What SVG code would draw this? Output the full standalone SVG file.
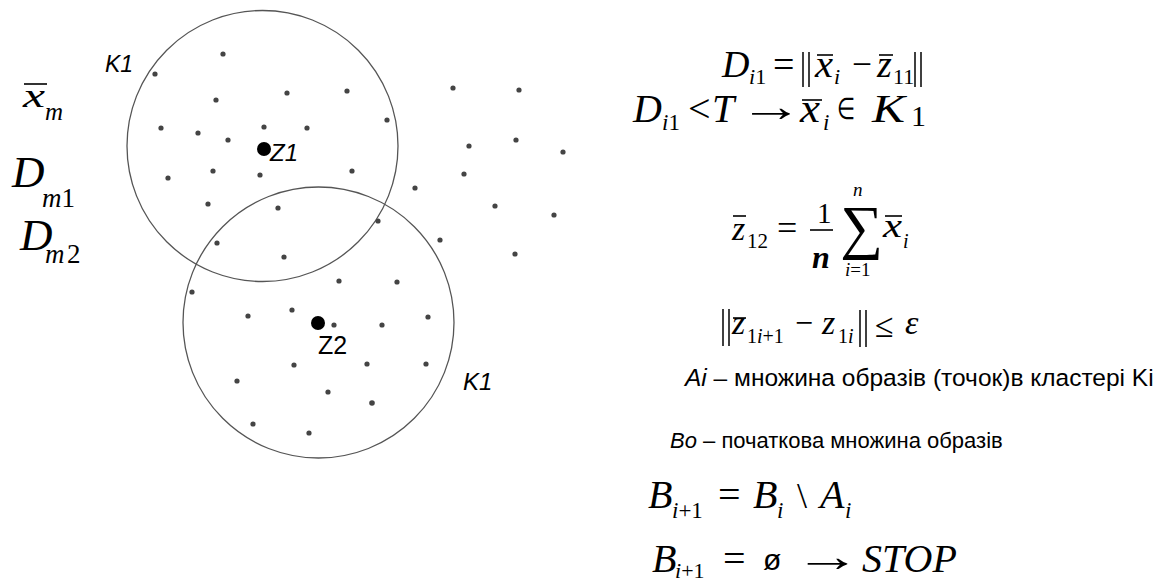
<svg xmlns="http://www.w3.org/2000/svg" width="1168" height="582" viewBox="0 0 1168 582">
<style>
.m{font-family:"Liberation Serif","Times New Roman",serif;font-style:italic;fill:#000}
.r{font-style:normal}
.b{font-weight:bold}
.s{font-family:"Liberation Sans",Arial,sans-serif;fill:#000}
.i{font-style:italic}
.bar{stroke:#000;stroke-width:1.6}
.nb{stroke:#000;stroke-width:1.5}
.c{fill:none;stroke:#555;stroke-width:1.3}
.d{fill:#444}
</style>
<rect width="1168" height="582" fill="#fff"/>
<g id="clusters">
<circle class="c" cx="262.5" cy="146" r="135.5"/>
<circle class="c" cx="318.5" cy="322.5" r="135.5"/>
</g>
<g id="points">
<circle class="d" cx="223" cy="54" r="2.6"/><circle class="d" cx="155" cy="74" r="2.6"/>
<circle class="d" cx="216" cy="100" r="2.6"/><circle class="d" cx="287" cy="93" r="2.6"/>
<circle class="d" cx="347" cy="91" r="2.6"/><circle class="d" cx="387" cy="120" r="2.6"/>
<circle class="d" cx="453" cy="88" r="2.6"/><circle class="d" cx="519" cy="90" r="2.6"/>
<circle class="d" cx="161" cy="128" r="2.6"/><circle class="d" cx="198" cy="133" r="2.6"/>
<circle class="d" cx="264" cy="127" r="2.6"/><circle class="d" cx="307" cy="128" r="2.6"/>
<circle class="d" cx="228" cy="140" r="2.6"/><circle class="d" cx="469" cy="146" r="2.6"/>
<circle class="d" cx="516" cy="140" r="2.6"/><circle class="d" cx="563" cy="152" r="2.6"/>
<circle class="d" cx="168" cy="178" r="2.6"/><circle class="d" cx="213" cy="171" r="2.6"/>
<circle class="d" cx="260" cy="175" r="2.6"/><circle class="d" cx="352" cy="171" r="2.6"/>
<circle class="d" cx="464" cy="174" r="2.6"/><circle class="d" cx="415" cy="188" r="2.6"/>
<circle class="d" cx="208" cy="204" r="2.6"/><circle class="d" cx="278" cy="208" r="2.6"/>
<circle class="d" cx="495" cy="206" r="2.6"/><circle class="d" cx="554" cy="215" r="2.6"/>
<circle class="d" cx="378" cy="221" r="2.6"/><circle class="d" cx="440" cy="240" r="2.6"/>
<circle class="d" cx="515" cy="254" r="2.6"/><circle class="d" cx="217" cy="243" r="2.6"/>
<circle class="d" cx="284" cy="257" r="2.6"/><circle class="d" cx="339" cy="281" r="2.6"/>
<circle class="d" cx="397" cy="282" r="2.6"/><circle class="d" cx="192" cy="292" r="2.6"/>
<circle class="d" cx="248" cy="316" r="2.6"/><circle class="d" cx="292" cy="310" r="2.6"/>
<circle class="d" cx="334" cy="325" r="2.6"/><circle class="d" cx="382" cy="325" r="2.6"/>
<circle class="d" cx="428" cy="317" r="2.6"/><circle class="d" cx="294" cy="365" r="2.6"/>
<circle class="d" cx="367" cy="364" r="2.6"/><circle class="d" cx="426" cy="364" r="2.6"/>
<circle class="d" cx="237" cy="381" r="2.6"/><circle class="d" cx="328" cy="392" r="2.6"/>
<circle class="d" cx="372" cy="403" r="2.8"/><circle class="d" cx="253" cy="424" r="2.6"/>
<circle class="d" cx="309" cy="433" r="2.6"/>
</g>
<g id="center-z1">
<circle cx="264" cy="149" r="7" fill="#000"/>
<text class="s i" x="270" y="161" font-size="24">Z1</text>
</g>
<g id="center-z2">
<circle cx="318" cy="323" r="7" fill="#000"/>
<text class="s" x="318" y="354" font-size="25">Z2</text>
</g>
<g id="label-k1-top"><text class="s i" x="105" y="72" font-size="23">K1</text></g>
<g id="label-k1-bottom"><text class="s i" x="463" y="390" font-size="24">K1</text></g>
<g id="left-labels">
<text class="m" x="23" y="107" font-size="34" textLength="22" lengthAdjust="spacingAndGlyphs">x</text>
<line class="bar" x1="24" y1="84" x2="47" y2="84"/>
<text class="m" x="45" y="120" font-size="25">m</text>
<text class="m" x="12" y="187" font-size="45">D</text>
<text class="m" x="42" y="207" font-size="27">m<tspan class="r">1</tspan></text>
<text class="m" x="20" y="250" font-size="45">D</text>
<text class="m" x="45" y="263" font-size="27">m</text>
<text class="m r" x="67" y="263" font-size="27">2</text>
</g>
<g id="formula-1">
<text class="m" x="722" y="77" font-size="38">D</text>
<text class="m" x="749" y="84" font-size="22">i<tspan class="r">1</tspan></text>
<text class="m r" x="773" y="77" font-size="38">=</text>
<line class="nb" x1="803" y1="52" x2="803" y2="87"/><line class="nb" x1="809" y1="52" x2="809" y2="87"/>
<text class="m" x="815" y="77" font-size="38" textLength="18" lengthAdjust="spacingAndGlyphs">x</text>
<line class="bar" x1="817" y1="55" x2="833" y2="55"/>
<text class="m" x="834" y="84" font-size="22">i</text>
<text class="m r" x="852" y="77" font-size="38" textLength="20" lengthAdjust="spacingAndGlyphs">−</text>
<text class="m" x="877" y="77" font-size="38">z</text>
<line class="bar" x1="879" y1="55" x2="893" y2="55"/>
<text class="m r" x="893" y="84" font-size="22">11</text>
<line class="nb" x1="915" y1="52" x2="915" y2="87"/><line class="nb" x1="921" y1="52" x2="921" y2="87"/>
</g>
<g id="formula-2">
<text class="m" x="633" y="122" font-size="40">D</text>
<text class="m" x="662" y="130" font-size="23">i<tspan class="r">1</tspan></text>
<text class="m r" x="688" y="122" font-size="40">&lt;</text>
<text class="m" x="712" y="122" font-size="40">T</text>
<text class="m r" x="739" y="121" font-size="44" textLength="64" lengthAdjust="spacingAndGlyphs">→</text>
<text class="m" x="800" y="122" font-size="40" textLength="20" lengthAdjust="spacingAndGlyphs">x</text>
<line class="bar" x1="802" y1="100" x2="822" y2="100"/>
<text class="m" x="823" y="130" font-size="23">i</text>
<text class="m r" x="837" y="119" font-size="30" textLength="18" lengthAdjust="spacingAndGlyphs">∈</text>
<text class="m" x="872" y="122" font-size="41" textLength="33" lengthAdjust="spacingAndGlyphs">K</text>
<text class="m r" x="911" y="126" font-size="30">1</text>
</g>
<g id="formula-3">
<text class="m" x="732" y="240" font-size="34">z</text>
<line class="bar" x1="733" y1="216" x2="746" y2="216"/>
<text class="m r" x="747" y="248" font-size="21">12</text>
<text class="m r" x="777" y="240" font-size="36">=</text>
<text class="m r" x="817" y="223" font-size="29">1</text>
<line class="bar" x1="810" y1="230" x2="833" y2="230"/>
<text class="m b" x="812" y="268" font-size="32">n</text>
<text class="m r" x="840" y="247" font-size="60">∑</text>
<text class="m" x="853" y="196" font-size="19">n</text>
<text class="m" x="845" y="276" font-size="19">i<tspan class="r">=1</tspan></text>
<text class="m" x="883" y="237" font-size="34" textLength="19" lengthAdjust="spacingAndGlyphs">x</text>
<line class="bar" x1="885" y1="216" x2="902" y2="216"/>
<text class="m" x="903" y="248" font-size="20">i</text>
</g>
<g id="formula-4">
<line class="nb" x1="723" y1="309" x2="723" y2="346"/><line class="nb" x1="729" y1="309" x2="729" y2="346"/>
<text class="m" x="732" y="334" font-size="34">z</text>
<line class="bar" x1="733" y1="318" x2="746" y2="318"/>
<text class="m r" x="747" y="343" font-size="20">1<tspan class="i">i</tspan>+1</text>
<text class="m r" x="795" y="334" font-size="34" textLength="18" lengthAdjust="spacingAndGlyphs">−</text>
<text class="m" x="822" y="334" font-size="34">z</text>
<text class="m r" x="838" y="343" font-size="20">1<tspan class="i">i</tspan></text>
<line class="nb" x1="860" y1="310" x2="860" y2="347"/><line class="nb" x1="866" y1="310" x2="866" y2="347"/>
<text class="m r" x="875" y="337" font-size="34">≤</text>
<text class="m" x="905" y="334" font-size="34">ε</text>
</g>
<g id="text-ai"><text class="s" x="685" y="386" font-size="24.5"><tspan class="i">Ai</tspan> – множина образів (точок)в кластері Ki</text></g>
<g id="text-bo"><text class="s" x="670" y="448" font-size="22"><tspan class="i">Bo</tspan> – початкова множина образів</text></g>
<g id="formula-5">
<text class="m" x="648" y="508" font-size="40">B</text>
<text class="m" x="672" y="518" font-size="23">i<tspan class="r">+1</tspan></text>
<text class="m r" x="718" y="508" font-size="40">=</text>
<text class="m" x="753" y="508" font-size="40">B</text>
<text class="m" x="777" y="518" font-size="23">i</text>
<text class="m r" x="797" y="508" font-size="36">\</text>
<text class="m" x="820" y="508" font-size="40">A</text>
<text class="m" x="845" y="518" font-size="23">i</text>
</g>
<g id="formula-6">
<text class="m" x="652" y="572" font-size="40">B</text>
<text class="m" x="675" y="578" font-size="22">i<tspan class="r">+1</tspan></text>
<text class="m r" x="723" y="572" font-size="40">=</text>
<text class="s" x="763" y="570" font-size="30">ø</text>
<text class="m r" x="794" y="571" font-size="44" textLength="67" lengthAdjust="spacingAndGlyphs">→</text>
<text class="m" x="862" y="572" font-size="40">STOP</text>
</g>
</svg>
